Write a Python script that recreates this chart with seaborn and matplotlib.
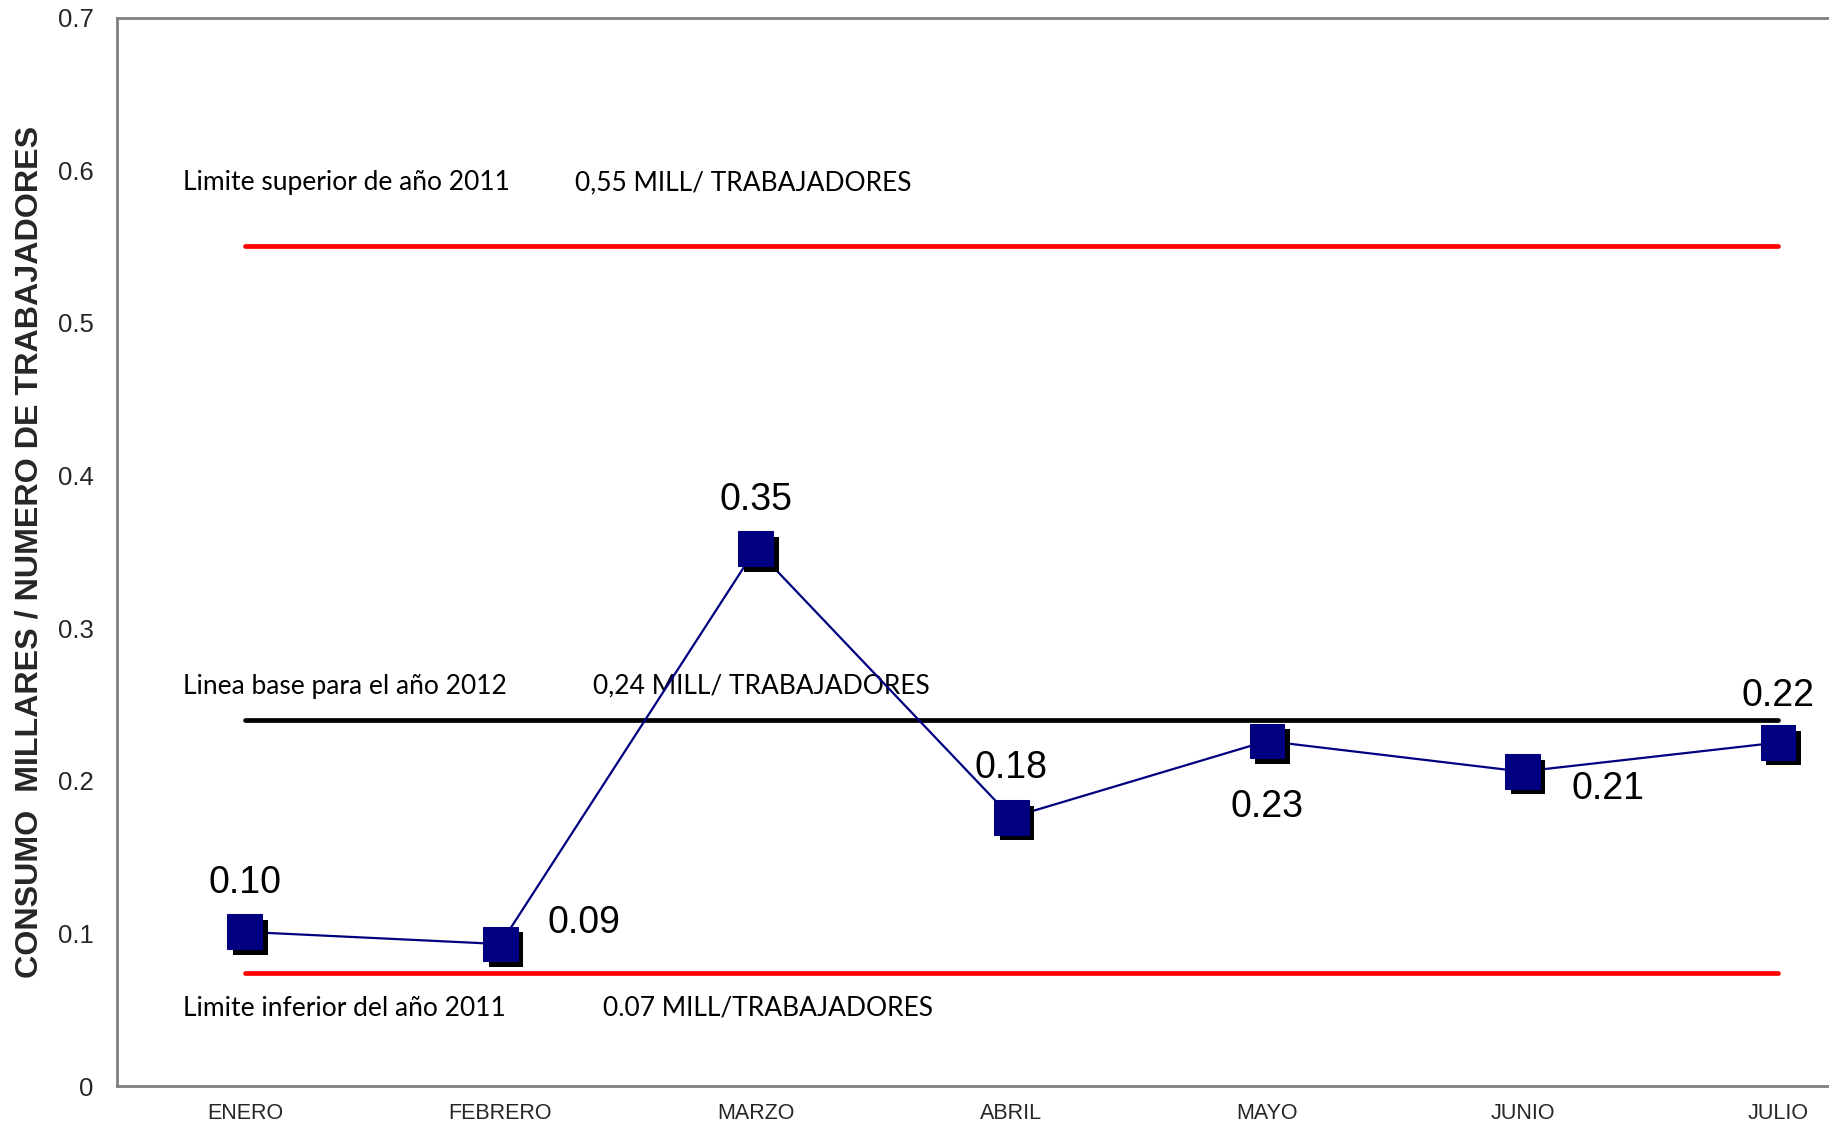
import matplotlib
matplotlib.use("Agg")
import matplotlib.pyplot as plt
import matplotlib.patheffects as pe
import seaborn as sns
import pandas as pd

# data
months = ["ENERO", "FEBRERO", "MARZO", "ABRIL", "MAYO", "JUNIO", "JULIO"]
consumo = [0.101, 0.093, 0.352, 0.176, 0.226, 0.206, 0.225]
value_labels = ["0.10", "0.09", "0.35", "0.18", "0.23", "0.21", "0.22"]
limite_superior = 0.55
linea_base = 0.24
limite_inferior = 0.074
ref_texts = [
    ("Limite superior de año 2011", "0,55 MILL/ TRABAJADORES"),
    ("Linea base para el año 2012", "0,24 MILL/ TRABAJADORES"),
    ("Limite inferior del año 2011", "0.07 MILL/TRABAJADORES"),
]

df = pd.DataFrame({"mes": months, "consumo": consumo})

sns.set_style("white")
plt.rcParams["font.family"] = ["Liberation Sans", "DejaVu Sans"]

fig = plt.figure(figsize=(18.29, 11.24), dpi=100)
ax = fig.add_axes([0.064, 0.0338, 0.936, 0.9506])

# reference lines
n = len(months) - 1
ax.hlines(limite_superior, 0, n, color="#ff0000", lw=3.4, capstyle="round", zorder=2)
ax.hlines(linea_base, 0, n, color="black", lw=3.4, capstyle="round", zorder=2)
ax.hlines(limite_inferior, 0, n, color="#ff0000", lw=3.4, capstyle="round", zorder=2)

# annotation texts for reference lines
txt_font = dict(family=["Lato", "DejaVu Sans"], fontsize=19, color="black",
                va="center", ha="left", zorder=1)
ax.text(-0.242, 0.5916, ref_texts[0][0], **txt_font)
ax.text(1.294, 0.5916, ref_texts[0][1], **txt_font)
ax.text(-0.242, 0.262, ref_texts[1][0], **txt_font)
ax.text(1.364, 0.262, ref_texts[1][1], **txt_font)
ax.text(-0.242, 0.051, ref_texts[2][0], **txt_font)
ax.text(1.403, 0.051, ref_texts[2][1], **txt_font)

# data line and shadowed square markers
sns.lineplot(data=df, x="mes", y="consumo", color="#000080", lw=1.6, ax=ax,
             sort=False, zorder=3)
sns.lineplot(data=df, x="mes", y="consumo", ax=ax, sort=False, linestyle="none",
             marker="s", markersize=25, markerfacecolor="#000080",
             markeredgecolor="#000080", color="#000080", zorder=4,
             path_effects=[pe.SimplePatchShadow(offset=(4, -4), shadow_rgbFace="black", alpha=1),
                           pe.Normal()])

# value labels
label_offsets = [(0, 49), (84, 21), (0, 49), (0, 49), (0, -66), (86, -17), (0, 47)]
for i, (v, lab) in enumerate(zip(consumo, value_labels)):
    ax.annotate(lab, xy=(i, v), xytext=label_offsets[i], textcoords="offset pixels",
                ha="center", va="center", fontsize=27, color="black", zorder=5)

ax.set_xlim(-0.5, 6.2)
ax.set_ylim(0, 0.7)
ax.set_yticks([0, 0.1, 0.2, 0.3, 0.4, 0.5, 0.6, 0.7])
ax.set_yticklabels(["0", "0.1", "0.2", "0.3", "0.4", "0.5", "0.6", "0.7"])
ax.tick_params(axis="y", length=0, pad=17, labelsize=18.5)
ax.tick_params(axis="x", length=0, pad=12, labelsize=15.5)
ax.set_xlabel("")
ax.set_ylabel("CONSUMO  MILLARES / NUMERO DE TRABAJADORES", fontsize=23.2,
              fontweight="bold")
ax.yaxis.set_label_coords(-0.0426, 0.5)

for side in ["left", "bottom", "top"]:
    ax.spines[side].set_color("#808080")
    ax.spines[side].set_linewidth(2)
ax.spines["right"].set_visible(False)

fig.savefig("out.png", dpi=100)
